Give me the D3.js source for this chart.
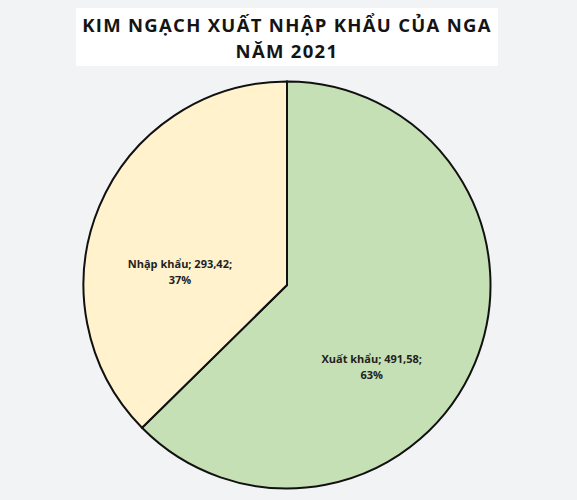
<!DOCTYPE html>
<html><head><meta charset="utf-8">
<script src="https://cdn.jsdelivr.net/npm/d3@7"></script>
<style>
html,body{margin:0;padding:0;background:#f2f3f5;}
svg{display:block;}
</style></head>
<body>
<svg id="c" width="577" height="500"></svg>
<script>
const categories = ["Xuất khẩu", "Nhập khẩu"];
const values = [491.58, 293.42];
const valueLabels = ["491,58", "293,42"];
const titleLines = ["KIM NGẠCH XUẤT NHẬP KHẨU CỦA NGA", "NĂM 2021"];

const colors = d3.scaleOrdinal().domain(categories).range(["#c5e0b4", "#fff2cc"]);
const svg = d3.select("#c");

// title box
svg.append("rect").attr("x", 76).attr("y", 8).attr("width", 422).attr("height", 58).attr("fill", "#ffffff");
const title = svg.append("text").attr("text-anchor", "middle")
  .attr("font-family", "'Open Sans', sans-serif").attr("font-weight", 700)
  .attr("font-size", 18.5).attr("fill", "#141414").attr("letter-spacing", 1.3);
titleLines.forEach((t, i) => {
  title.append("tspan").attr("x", 287).attr("y", 31.5 + i * 26).text(t);
});

const cx = 287, cy = 285, R = 203.5;
const total = d3.sum(values);
const pie = d3.pie().sort(null).value(d => d.v);
const data = categories.map((c, i) => ({c, v: values[i], lab: valueLabels[i]}));
const arcs = pie(data);
const arc = d3.arc().innerRadius(0).outerRadius(R);
const g = svg.append("g").attr("transform", `translate(${cx},${cy})`);
g.selectAll("path").data(arcs).join("path")
  .attr("d", arc).attr("fill", d => colors(d.data.c))
  .attr("stroke", "#111").attr("stroke-width", 2).attr("stroke-linejoin", "miter");

// label placement (Excel best-fit style): radius and angular nudge per slice
const nudge = [{r: 117, da: 20.9}, {r: 108, da: -15.2}];
arcs.forEach((d, i) => {
  const mid = (d.startAngle + d.endAngle) / 2 + nudge[i].da * Math.PI / 180;
  const x = Math.sin(mid) * nudge[i].r, y = -Math.cos(mid) * nudge[i].r;
  const pct = Math.round(d.data.v / total * 100) + "%";
  const t = g.append("text").attr("text-anchor", "middle")
    .attr("font-family", "'Open Sans', sans-serif").attr("font-weight", 700)
    .attr("font-size", 11).attr("fill", "#222");
  t.append("tspan").attr("x", x).attr("y", y - 3).text(`${d.data.c}; ${d.data.lab};`);
  t.append("tspan").attr("x", x).attr("y", y + 13).text(pct);
});
</script>
</body></html>
